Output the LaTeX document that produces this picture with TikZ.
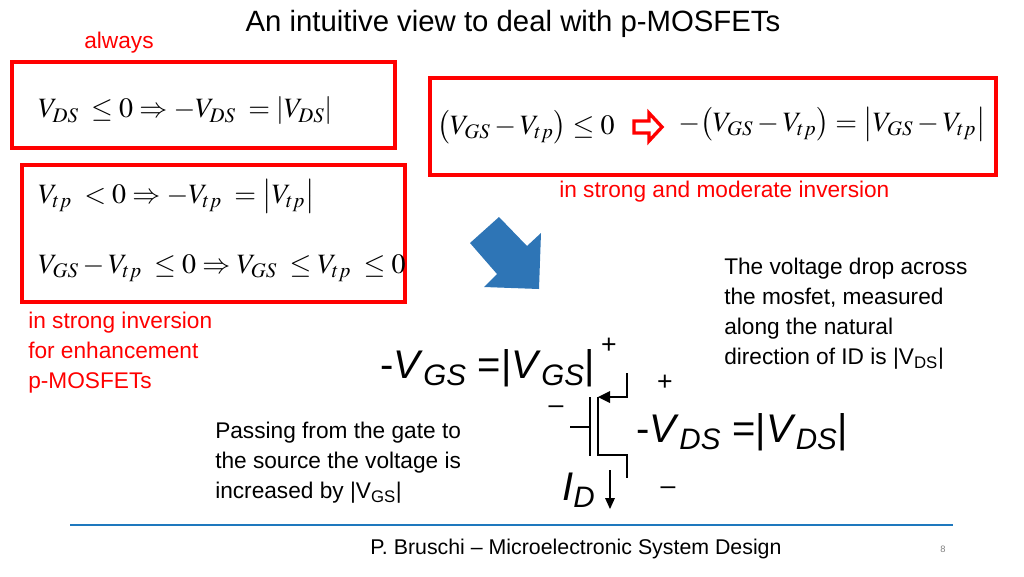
\documentclass[tikz,border=0pt]{standalone}
\usepackage{amsmath}
\usepackage{mathptmx}
\usepackage[no-math]{fontspec}
\setmainfont{Liberation Sans}
\usetikzlibrary{positioning}
\definecolor{slidered}{RGB}{255,0,0}
\definecolor{arrowblue}{RGB}{46,117,182}
\definecolor{rulerblue}{RGB}{30,120,190}
\tikzset{
  redbox/.style={draw=slidered, line width=3pt},
  redtext/.style={text=slidered, font=\fontsize{17}{22.5}\selectfont, align=left, anchor=north west, inner sep=0pt},
  bodytext/.style={font=\fontsize{17}{22.5}\selectfont, align=left, anchor=north west, inner sep=0pt},
  formula/.style={font=\fontsize{21}{24}\selectfont, anchor=west, inner sep=0pt},
  bigtext/.style={font=\fontsize{30}{34}\selectfont, anchor=west, inner sep=0pt},
  sign/.style={font=\fontsize{20}{22}\selectfont, inner sep=0pt}
}
\begin{document}
\begin{tikzpicture}[x=0.75pt,y=-0.75pt]
  \useasboundingbox (0,0) rectangle (1024,576);

  % Title
  \node[font=\fontsize{22}{24}\selectfont] (title) at (513,24) {An intuitive view to deal with p-MOSFETs};
  \node[redtext, anchor=center] (always) at (119,43) {always};

  % Boxes
  \draw[redbox] (12,62) rectangle (395,148);
  \draw[redbox] (430,78) rectangle (996,175);
  \draw[redbox] (22,165) rectangle (405,302);

  % Formulas
  \node[formula] (f1) at (38,111) {$V_{DS}\;\le 0\Rightarrow -V_{DS}\;=\lvert V_{DS}\rvert$};
  \node[formula] (f2) at (437,127) {$\bigl(V_{GS}-V_{tp}\bigr)\le 0$};
  \node[formula] (f3) at (678,124) {$-\bigl(V_{GS}-V_{tp}\bigr)=\bigl\lvert V_{GS}-V_{tp}\bigr\rvert$};
  \node[formula] (f4) at (38,196) {$V_{tp}\;<0\Rightarrow -V_{tp}\;=\bigl\lvert V_{tp}\bigr\rvert$};
  \node[formula] (f5) at (38,268) {$V_{GS}-V_{tp}\;\le 0\Rightarrow V_{GS}\;\le V_{tp}\;\le 0$};

  % Red outline arrow
  \draw[slidered, line width=2.5pt, line join=miter]
    (634,121) -- (649,121) -- (649,113) -- (662,127) -- (649,141) -- (649,133) -- (634,133) -- cycle;

  \node[redtext] (moderate) at (559,181) {in strong and moderate inversion};
  \node[redtext] (strong) at (28,312) {in strong inversion\\for enhancement\\p-MOSFETs};

  % Blue arrow
  \fill[arrowblue] (470,243) -- (499,217) -- (527,246) -- (541,233) -- (539,289) -- (484,287) -- (497,274) -- cycle;

  \node[bodytext] (drop) at (724,258) {The voltage drop across\\the mosfet, measured\\along the natural\\direction of ID is |V\textsubscript{DS}|};
  \node[bodytext] (gate) at (215,422) {Passing from the gate to\\the source the voltage is\\increased by |V\textsubscript{GS}|};

  % Transistor
  \draw[line width=0.9pt] (570,427) -- (590,427);
  \draw[line width=0.9pt] (590,397) -- (590,456);
  \draw[line width=0.9pt] (598,397) -- (598,456);
  \draw[line width=0.9pt] (627,373) -- (627,397) -- (601,397);
  \fill (598,397) -- (610,391) -- (610,403) -- cycle;
  \draw[line width=0.9pt] (598,455) -- (627,455) -- (627,478);
  \draw[line width=0.9pt] (610,470) -- (610,500);
  \fill (610,509) -- (605,498) -- (615,498) -- cycle;

  \node[bigtext] (vgs) at (380,368) {-\textit{V}\textsubscript{\textit{GS}} =|\textit{V}\textsubscript{\textit{GS}}|};
  \node[bigtext] (vds) at (636,432) {-\textit{V}\textsubscript{\textit{DS}} =|\textit{V}\textsubscript{\textit{DS}}|};
  \node[bigtext] (id) at (562,490) {\textit{I}\textsubscript{\textit{D}}};
  \node[sign] (p1) at (609,346) {+};
  \node[sign] (p2) at (665,383) {+};
  \node[sign] (m1) at (556,410) {--};
  \node[sign] (m2) at (668,491) {--};

  % Footer
  \draw[rulerblue, line width=1.5pt] (70,525) -- (953,525);
  \node[font=\fontsize{16}{18}\selectfont] (footer) at (576,549) {P. Bruschi -- Microelectronic System Design};
  \node[font=\fontsize{7}{8}\selectfont, text=gray] (page) at (943,549) {8};
\end{tikzpicture}
\end{document}
